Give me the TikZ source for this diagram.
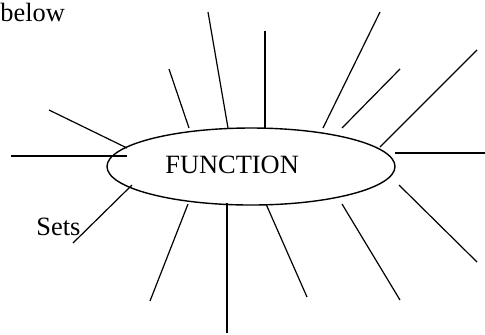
\documentclass[tikz,border=0pt]{standalone}
\usepackage{fontspec}
\setmainfont{Liberation Serif}
\usetikzlibrary{shapes.geometric}

\begin{document}
\begin{tikzpicture}[
    x=0.5pt,y=-0.5pt,
    word/.style={inner sep=0pt,font=\fontsize{13.2}{15}\selectfont},
    spoke/.style={line width=0.6pt},
    oval/.style={ellipse,draw,line width=0.7pt,minimum width=144pt,minimum height=38.5pt,inner sep=0pt}
  ]
    \useasboundingbox (0,0) rectangle (485,334);

    \node[oval] (func) at (251,166.5) {};
    \node[word,anchor=base west] (name) at (165,173) {FUNCTION};
    \node[word,anchor=base west] (below) at (0,21) {below};
    \node[word,anchor=base west] (sets) at (36,235) {Sets};

    % spokes: inner end / outer end
    \foreach \n/\ix/\iy/\ox/\oy in {
        a/127/148/49/110, b/127/156/11/156, c/189/128/169/69,
        d/228/128/208/12, e/265/128/265/31, f/323/128/380/12,
        g/342/128/400/69, h/380/147/477/50, i/395/153/485/153,
        j/132/185/73/243, k/188/204/150/301, l/227/203/227/333,
        m/266/204/307/297, n/342/204/400/300, o/399/185/477/262} {
      \coordinate (in\n) at (\ix,\iy);
      \coordinate (out\n) at (\ox,\oy);
      \draw[spoke] (in\n) -- (out\n);
    }
  \end{tikzpicture}
\end{document}
